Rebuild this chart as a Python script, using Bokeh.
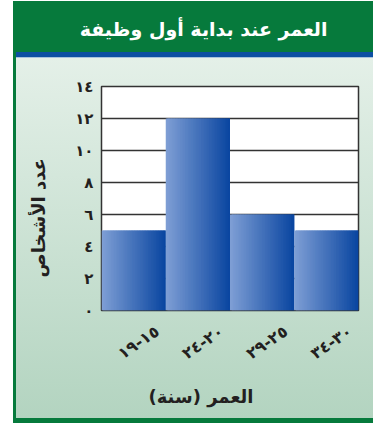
import numpy as np
from bokeh.plotting import figure
from bokeh.models import Range1d, FixedTicker, Title, ColumnDataSource
from bokeh.embed import file_html
from bokeh.resources import INLINE

title_text = "العمر عند بداية أول وظيفة"
x_title = "العمر (سنة)"
y_title = "عدد الأشخاص"
age_groups = ["١٥-١٩", "٢٠-٢٤", "٢٥-٢٩", "٣٠-٣٤"]
people = [5, 12, 6, 5]
y_ticks = [0, 2, 4, 6, 8, 10, 12, 14]
y_tick_labels = ["٠", "٢", "٤", "٦", "٨", "١٠", "١٢", "١٤"]

FONT = "DejaVu Sans"
TXT = "#231f20"
GREEN = "#067a3c"

xpos = np.arange(len(age_groups))

p = figure(width=373, height=424,
           x_range=Range1d(-0.5, len(age_groups) - 0.5),
           y_range=Range1d(0, 14),
           output_backend="svg", toolbar_location=None,
           min_border_left=101, min_border_right=15,
           min_border_top=86, min_border_bottom=114)

p.title.text = ""
p.border_fill_color = None
p.background_fill_color = "white"
p.outline_line_color = "#333333"
p.outline_line_width = 1.5

p.styles = {
    "background": (
        f"linear-gradient({GREEN},{GREEN}) 13px 1px / 100% 51px no-repeat, "
        "linear-gradient(#0c4fa2,#0c4fa2) 16px 52px / 100% 5px no-repeat, "
        "linear-gradient(#a9c2de,#a9c2de) 16px 57px / 100% 1px no-repeat, "
        f"linear-gradient({GREEN},{GREEN}) 13px 1px / 3px 422px no-repeat, "
        f"linear-gradient({GREEN},{GREEN}) 13px 418px / 100% 5px no-repeat, "
        "linear-gradient(to bottom, #e4f0e8, #b3d4c0) 13px 58px / 100% 360px no-repeat"
    )
}

# gradient-filled bars built from thin overlapping strips
N = 40
c0 = np.array([127, 159, 213])
c1 = np.array([9, 69, 160])
lefts, rights, tops, colors = [], [], [], []
for xc, h in zip(xpos, people):
    for k in range(N):
        t = (k + 0.5) / N
        col = (c0 + (c1 - c0) * t).round().astype(int)
        l = xc - 0.5 + k / N
        r = min(xc - 0.5 + (k + 2) / N, xc + 0.5)
        lefts.append(l); rights.append(r); tops.append(h)
        colors.append("#%02x%02x%02x" % tuple(col))
strips = ColumnDataSource(dict(left=lefts, right=rights, top=tops,
                               bottom=[0] * len(tops), color=colors))
p.quad(left="left", right="right", top="top", bottom="bottom",
       fill_color="color", line_color=None, source=strips)

# grid
p.xgrid.grid_line_color = None
p.ygrid.ticker = FixedTicker(ticks=y_ticks)
p.ygrid.grid_line_color = "#333333"
p.ygrid.grid_line_width = 1.5

# y axis
p.yaxis.ticker = FixedTicker(ticks=y_ticks)
p.yaxis.major_label_overrides = {float(t): l for t, l in zip(y_ticks, y_tick_labels)}
p.yaxis.axis_line_color = None
p.yaxis.major_tick_line_color = None
p.yaxis.minor_tick_line_color = None
p.yaxis.major_tick_out = 0
p.yaxis.major_label_standoff = 8
p.yaxis.major_label_text_font = FONT
p.yaxis.major_label_text_font_style = "bold"
p.yaxis.major_label_text_font_size = "15px"
p.yaxis.major_label_text_color = TXT

# x axis (labels centred under the bars once rotated)
label_shift = 0.37
x_ticks = [float(x) + label_shift for x in xpos]
p.xaxis.ticker = FixedTicker(ticks=x_ticks)
p.xaxis.major_label_overrides = {t: g for t, g in zip(x_ticks, age_groups)}
p.xaxis.axis_line_color = None
p.xaxis.major_tick_line_color = None
p.xaxis.minor_tick_line_color = None
p.xaxis.major_tick_out = 0
p.xaxis.major_label_standoff = 19
p.xaxis.major_label_orientation = 0.6
p.xaxis.major_label_text_font = FONT
p.xaxis.major_label_text_font_style = "bold"
p.xaxis.major_label_text_font_size = "16px"
p.xaxis.major_label_text_color = TXT

# header text (spacer keeps it at the top of the green band)
p.add_layout(Title(text=" ", text_font_size="1px", standoff=25), "above")
p.add_layout(Title(text=title_text, align="right", offset=31, vertical_align="top",
                   standoff=34, text_color="white", text_font=FONT,
                   text_font_style="bold", text_font_size="19px"), "above")

# axis titles
p.add_layout(Title(text=x_title, align="right", offset=105, vertical_align="top",
                   standoff=25, text_color=TXT, text_font=FONT,
                   text_font_style="bold", text_font_size="18px"), "below")
p.add_layout(Title(text=y_title, align="left", offset=33, vertical_align="bottom",
                   standoff=48, text_color=TXT, text_font=FONT,
                   text_font_style="bold", text_font_size="18px"), "left")

open("out.html", "w").write(file_html(p, INLINE))
